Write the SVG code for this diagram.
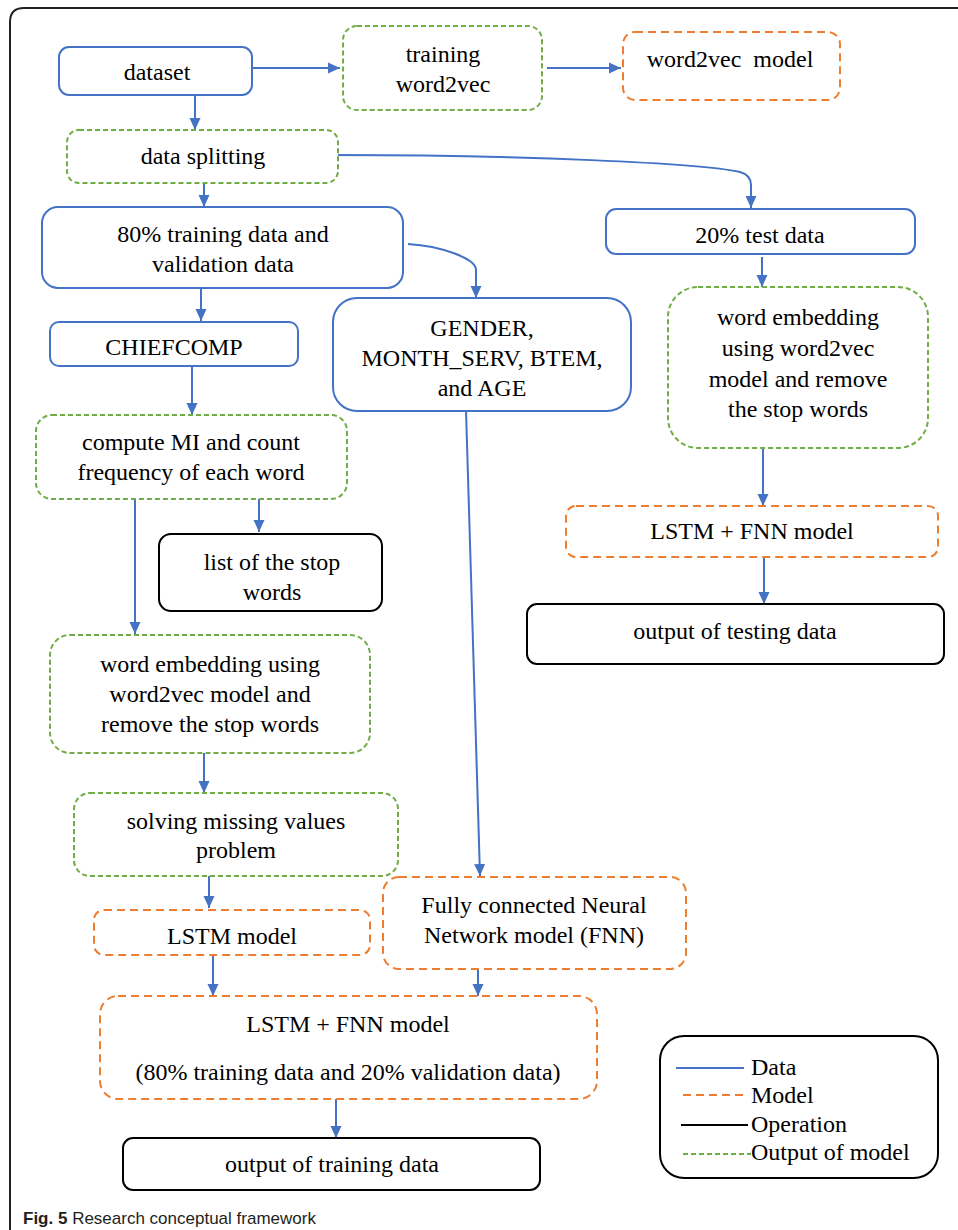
<svg xmlns="http://www.w3.org/2000/svg" width="958" height="1230" viewBox="0 0 958 1230">
<defs>
<marker id="ah" markerUnits="userSpaceOnUse" markerWidth="12" markerHeight="12" refX="12" refY="6" orient="auto">
<path d="M0,0.5 L12,6 L0,11.5 z" fill="#4472C4"/>
</marker>
<style>
.t{font-family:"Liberation Serif","Times New Roman",serif;font-size:24px;fill:#000;text-anchor:middle}
.lt{font-family:"Liberation Serif","Times New Roman",serif;font-size:24px;fill:#000}
.data{fill:#fff;stroke:#4472C4;stroke-width:2}
.model{fill:#fff;stroke:#ED7D31;stroke-width:2;stroke-dasharray:8,5}
.op{fill:#fff;stroke:#000;stroke-width:2}
.out{fill:#fff;stroke:#70AD47;stroke-width:2;stroke-dasharray:5,3}
.c{fill:none;stroke:#4472C4;stroke-width:2;marker-end:url(#ah)}
</style>
</defs>
<rect width="958" height="1230" fill="#fff"/>
<path d="M10,1230 V22 Q10,8 24,8 H958" fill="none" stroke="#222" stroke-width="2"/>

<g id="connectors">
<line class="c" x1="251" y1="68" x2="340" y2="68"/>
<line class="c" x1="547" y1="68" x2="621" y2="68"/>
<line class="c" x1="195" y1="92" x2="195" y2="130"/>
<path class="c" d="M333,155 C520,155 700,163 740,172 Q751,175 751,185 L751,208"/>
<line class="c" x1="204" y1="182" x2="204" y2="207"/>
<path class="c" d="M408,244 C440,246 476,258 476,270 L476,298"/>
<line class="c" x1="762" y1="257" x2="762" y2="287"/>
<line class="c" x1="201" y1="286" x2="201" y2="321"/>
<line class="c" x1="192" y1="366" x2="192" y2="415"/>
<line class="c" x1="259" y1="496" x2="259" y2="532"/>
<line class="c" x1="135" y1="496" x2="135" y2="634"/>
<line class="c" x1="466" y1="410" x2="480" y2="876"/>
<line class="c" x1="763" y1="448" x2="763" y2="506"/>
<line class="c" x1="764" y1="558" x2="764" y2="604"/>
<line class="c" x1="204" y1="753" x2="204" y2="793"/>
<line class="c" x1="209" y1="866" x2="209" y2="908"/>
<line class="c" x1="213" y1="955" x2="213" y2="996"/>
<line class="c" x1="478" y1="969" x2="478" y2="996"/>
<line class="c" x1="336" y1="1099" x2="336" y2="1138"/>
</g>

<g id="dataset"><rect class="data" x="59" y="47" width="193" height="48" rx="10"/><text class="t" x="157" y="80">dataset</text></g>
<g id="training-word2vec"><rect class="out" x="343" y="26" width="199" height="84" rx="14"/><text class="t" x="443" y="62">training</text><text class="t" x="443" y="92">word2vec</text></g>
<g id="word2vec-model"><rect class="model" x="623" y="32" width="217" height="68" rx="12"/><text class="t" x="730" y="67" xml:space="preserve">word2vec  model</text></g>
<g id="data-splitting"><rect class="out" x="67" y="130" width="271" height="53" rx="12"/><text class="t" x="203" y="164">data splitting</text></g>
<g id="training-data"><rect class="data" x="42" y="207" width="361" height="81" rx="16"/><text class="t" x="223" y="242">80% training data and</text><text class="t" x="223" y="272">validation data</text></g>
<g id="test-data"><rect class="data" x="606" y="209" width="309" height="45" rx="10"/><text class="t" x="760" y="243">20% test data</text></g>
<g id="chiefcomp"><rect class="data" x="50" y="322" width="248" height="44" rx="9"/><text class="t" x="174" y="355">CHIEFCOMP</text></g>
<g id="gender"><rect class="data" x="333" y="298" width="298" height="113" rx="24"/><text class="t" x="482" y="336">GENDER,</text><text class="t" x="482" y="366">MONTH_SERV, BTEM,</text><text class="t" x="482" y="396">and AGE</text></g>
<g id="word-embedding-test"><rect class="out" x="668" y="287" width="260" height="161" rx="30"/><text class="t" x="798" y="325">word embedding</text><text class="t" x="798" y="356">using word2vec</text><text class="t" x="798" y="387">model and remove</text><text class="t" x="798" y="417">the stop words</text></g>
<g id="compute-mi"><rect class="out" x="36" y="415" width="311" height="84" rx="16"/><text class="t" x="191" y="450">compute MI and count</text><text class="t" x="191" y="480">frequency of each word</text></g>
<g id="stop-words"><rect class="op" x="159" y="534" width="223" height="77" rx="12"/><text class="t" x="272" y="570">list of the stop</text><text class="t" x="272" y="600">words</text></g>
<g id="lstm-fnn-test"><rect class="model" x="566" y="506" width="372" height="51" rx="10"/><text class="t" x="752" y="539">LSTM + FNN model</text></g>
<g id="output-testing"><rect class="op" x="527" y="604" width="417" height="60" rx="10"/><text class="t" x="735" y="639">output of testing data</text></g>
<g id="word-embedding-train"><rect class="out" x="50" y="635" width="320" height="118" rx="20"/><text class="t" x="210" y="672">word embedding using</text><text class="t" x="210" y="702">word2vec model and</text><text class="t" x="210" y="732">remove the stop words</text></g>
<g id="missing-values"><rect class="out" x="74" y="793" width="324" height="83" rx="16"/><text class="t" x="236" y="829">solving missing values</text><text class="t" x="236" y="858">problem</text></g>
<g id="lstm-model"><rect class="model" x="94" y="910" width="276" height="45" rx="10"/><text class="t" x="232" y="944">LSTM model</text></g>
<g id="fnn"><rect class="model" x="383" y="877" width="303" height="92" rx="16"/><text class="t" x="534" y="913">Fully connected Neural</text><text class="t" x="534" y="943">Network model (FNN)</text></g>
<g id="lstm-fnn-train"><rect class="model" x="100" y="996" width="497" height="103" rx="18"/><text class="t" x="348" y="1032">LSTM + FNN model</text><text class="t" x="348" y="1080">(80% training data and 20% validation data)</text></g>
<g id="output-training"><rect class="op" x="123" y="1138" width="417" height="52" rx="10"/><text class="t" x="332" y="1172">output of training data</text></g>

<g id="legend">
<rect class="op" x="660" y="1036" width="278" height="142" rx="24"/>
<line x1="676" y1="1068" x2="744" y2="1068" stroke="#4472C4" stroke-width="2"/>
<line x1="683" y1="1095" x2="746" y2="1095" stroke="#ED7D31" stroke-width="2" stroke-dasharray="8,5"/>
<line x1="681" y1="1125" x2="748" y2="1125" stroke="#000" stroke-width="2"/>
<line x1="683" y1="1154" x2="751" y2="1154" stroke="#70AD47" stroke-width="2" stroke-dasharray="5,3"/>
<text class="lt" x="751" y="1075">Data</text>
<text class="lt" x="751" y="1103">Model</text>
<text class="lt" x="751" y="1132">Operation</text>
<text class="lt" x="751" y="1160">Output of model</text>
</g>

<text x="23" y="1224" font-family="Liberation Sans, Arial, sans-serif" font-size="17" fill="#231F20"><tspan font-weight="bold">Fig. 5</tspan> Research conceptual framework</text>
</svg>
